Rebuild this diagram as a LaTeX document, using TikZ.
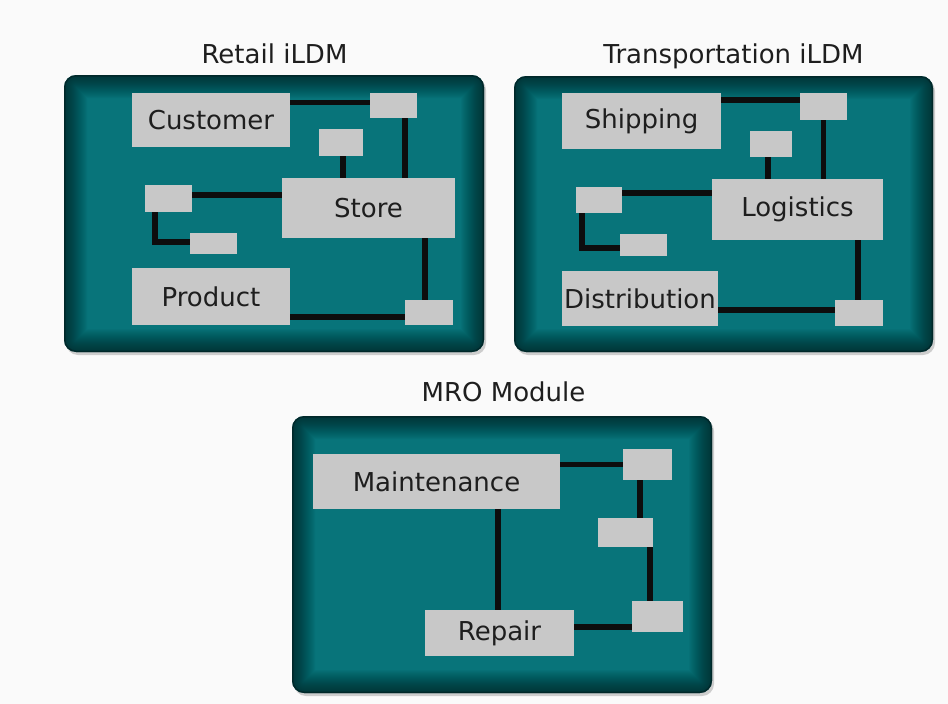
\documentclass[tikz,border=0pt]{standalone}
\usepackage{fontspec}
\setmainfont{DejaVu Sans}
\usetikzlibrary{shadows}
\definecolor{pagebg}{HTML}{FAFAFA}
\definecolor{teal0}{HTML}{08747A}
\definecolor{boxgray}{HTML}{C8C8C8}
\definecolor{inkgray}{HTML}{1E1E1E}
\tikzset{
  panel/.style={rectangle, rounded corners=12pt, fill=teal0, inner sep=0pt,
    drop shadow={shadow xshift=2pt, shadow yshift=-3pt, opacity=0.3, fill=black!60},
    path picture={
      % soft inner shadow built from stacked translucent strokes
      \foreach \w in {2,4,...,46}
        \draw[line width=\w pt, draw=black, opacity=0.028, rounded corners=12pt]
          (path picture bounding box.south west) rectangle (path picture bounding box.north east);
      \draw[line width=3pt, draw=black, opacity=0.25, rounded corners=12pt]
          (path picture bounding box.south west) rectangle (path picture bounding box.north east);
    }},
  gbox/.style={rectangle, fill=boxgray, inner sep=0pt, text=inkgray,
    font=\fontsize{26}{30}\selectfont},
  title/.style={anchor=base, text=inkgray, font=\fontsize{26}{30}\selectfont},
  link/.style={line width=5.5pt, draw=black!95},
}
\begin{document}
\begin{tikzpicture}[x=1pt, y=-1pt]
\useasboundingbox[fill=pagebg] (0,0) rectangle (948,704);

% ---------- panels ----------
\node[panel, minimum width=420pt, minimum height=277pt] (retailP) at (274,213.5) {};
\node[panel, minimum width=419pt, minimum height=276pt] (transP) at (723.5,214) {};
\node[panel, minimum width=420pt, minimum height=277pt] (mroP) at (502,554.5) {};

% ---------- titles ----------
\node[title] (retailT) at (274.5,63) {Retail iLDM};
\node[title] (transT) at (733.5,63) {Transportation iLDM};
\node[title] (mroT) at (503.5,401.5) {MRO Module};

% ---------- Retail iLDM ----------
\node[gbox, minimum width=158pt, minimum height=54pt] (cust) at (211,120) {Customer};
\node[gbox, minimum width=47pt, minimum height=25pt] (r1) at (393.5,105.5) {};
\node[gbox, minimum width=44pt, minimum height=27pt] (r2) at (341,142.5) {};
\node[gbox, minimum width=173pt, minimum height=60pt] (store) at (368.5,208) {Store};
\node[gbox, minimum width=47pt, minimum height=27pt] (r3) at (168.5,198.5) {};
\node[gbox, minimum width=47pt, minimum height=21pt] (r4) at (213.5,243.5) {};
\node[gbox, minimum width=158pt, minimum height=57pt] (prod) at (211,296.5) {Product};
\node[gbox, minimum width=48pt, minimum height=25pt] (r5) at (429,312.5) {};

\draw[link] ([yshift=3pt]r1.west -| cust.east) -- ([yshift=3pt]r1.west);
\draw[link] ([xshift=11.5pt]r1.south) -- ([xshift=11.5pt]r1.south |- store.north);
\draw[link] ([xshift=2pt]r2.south) -- ([xshift=2pt]r2.south |- store.north);
\draw[link] ([yshift=3.5pt]r3.east) -- ([yshift=3.5pt]r3.east -| store.west);
\draw[link] ([xshift=-13.5pt]r3.south) |- ([yshift=1.5pt]r4.west);
\draw[link] ([xshift=-4pt]r5.north) -- ([xshift=-4pt]r5.north |- store.south);
\draw[link] ([yshift=-4.5pt]r5.west -| prod.east) -- ([yshift=-4.5pt]r5.west);

% ---------- Transportation iLDM ----------
\node[gbox, minimum width=159pt, minimum height=56pt] (ship) at (641.5,121) {Shipping};
\node[gbox, minimum width=47pt, minimum height=27pt] (t1) at (823.5,106.5) {};
\node[gbox, minimum width=42pt, minimum height=26pt] (t2) at (771,144) {};
\node[gbox, minimum width=171pt, minimum height=61pt] (logi) at (797.5,209.5) {Logistics};
\node[gbox, minimum width=46pt, minimum height=26pt] (t3) at (599,200) {};
\node[gbox, minimum width=47pt, minimum height=22pt] (t4) at (643.5,245) {};
\node[gbox, minimum width=156pt, minimum height=55pt] (dist) at (640,298.5) {Distribution};
\node[gbox, minimum width=48pt, minimum height=26pt] (t5) at (859,313) {};

\draw[link] ([yshift=6.5pt]t1.west -| ship.east) -- ([yshift=6.5pt]t1.west);
\draw[link] (t1.south) -- (t1.south |- logi.north);
\draw[link] ([xshift=-3pt]t2.south) -- ([xshift=-3pt]t2.south |- logi.north);
\draw[link] ([yshift=7pt]t3.east) -- ([yshift=7pt]t3.east -| logi.west);
\draw[link] ([xshift=-17pt]t3.south) |- ([yshift=-3pt]t4.west);
\draw[link] ([xshift=-1pt]t5.north) -- ([xshift=-1pt]t5.north |- logi.south);
\draw[link] ([yshift=3pt]t5.west -| dist.east) -- ([yshift=3pt]t5.west);

% ---------- MRO Module ----------
\node[gbox, minimum width=247pt, minimum height=55pt] (maint) at (436.5,481.5) {Maintenance};
\node[gbox, minimum width=49pt, minimum height=31pt] (m1) at (647.5,464.5) {};
\node[gbox, minimum width=55pt, minimum height=29pt] (m2) at (625.5,532.5) {};
\node[gbox, minimum width=51pt, minimum height=31pt] (m3) at (657.5,616.5) {};
\node[gbox, minimum width=149pt, minimum height=46pt] (rep) at (499.5,633) {Repair};

\draw[link] (m1.west -| maint.east) -- (m1.west);
\draw[link] ([xshift=-7.5pt]m1.south) -- ([xshift=-7.5pt]m1.south |- m2.north);
\draw[link] ([xshift=24.5pt]m2.south) -- ([xshift=24.5pt]m2.south |- m3.north);
\draw[link] ([xshift=-1.5pt]rep.north) -- ([xshift=-1.5pt]rep.north |- maint.south);
\draw[link] ([yshift=6pt]rep.east) -- ([yshift=6pt]rep.east -| m3.west);
\end{tikzpicture}
\end{document}
